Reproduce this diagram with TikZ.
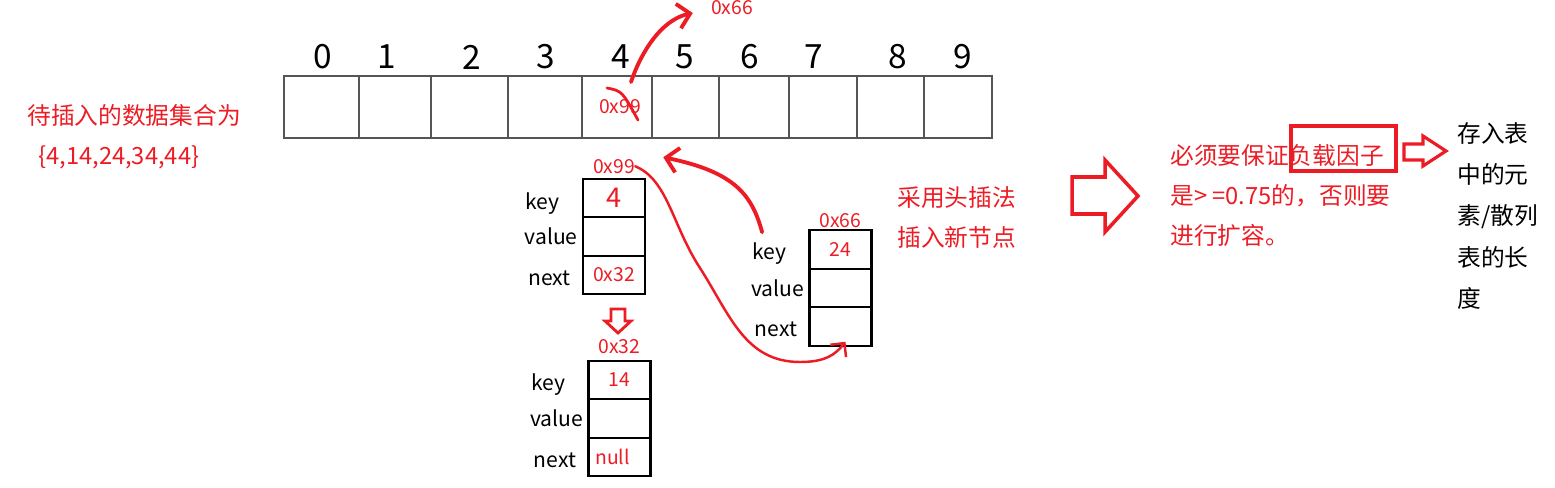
\documentclass[tikz,border=0pt]{standalone}
\usepackage{fontspec}
\setmainfont{Noto Sans CJK SC}
\usepackage{tikz}
\usetikzlibrary{positioning, arrows.meta, calc}
\definecolor{inkred}{RGB}{237,28,36}
\definecolor{gridgray}{RGB}{85,85,85}

\begin{document}
\begin{tikzpicture}[
    x=0.2mm, y=-0.2mm,
    >={Straight Barb[length=2.4mm, width=5mm]},
    tcell/.style={rectangle, draw=gridgray, line width=1pt, minimum height=12.4mm, inner sep=0pt, outer sep=0pt},
    idx/.style={inner sep=0pt, font=\fontsize{19}{19}\selectfont},
    slot/.style={rectangle, draw, line width=1.2pt, minimum width=12.4mm, minimum height=7.7mm, inner sep=0pt, outer sep=0pt},
    field/.style={inner sep=0pt, font=\fontsize{12}{12}\selectfont},
    addr/.style={inner sep=0pt, text=inkred, font=\fontsize{11}{11}\selectfont},
    note/.style={text=inkred, align=left, inner sep=0pt, font=\fontsize{13.5}{22.7}\selectfont},
    plain/.style={align=left, inner sep=0pt, font=\fontsize{13.5}{23.5}\selectfont},
    hand/.style={draw=inkred, line width=2.2pt, line cap=round, line join=round},
    thinhand/.style={hand, line width=1.4pt},
    blockarrow/.style={draw=inkred, line width=2pt, line join=miter}
]
\useasboundingbox (0,0) rectangle (1555,487);

% Data set
\node[note, anchor=west] (set1) at (27,115) {待插入的数据集合为};
\node[note, anchor=west] (set2) at (38,157) {\{4,14,24,34,44\}};

% Hash table
\foreach \l/\r/\t [count=\i from 0] in {284/359/323, 359/431/387, 431/508/472, 508/582/546, 582/652/621, 652/719/685, 719/789/750, 789/857/814, 857/924/898, 924/992/963} {
    \node[tcell, minimum width={(\r-\l)*0.2mm}] (c\i) at ({(\l+\r)/2},107) {};
    \node[idx] (n\i) at (\t,57) {\i};
}

% Old pointer in bucket 4
\node[addr] (old99) at (620,107) {0x99};
\draw[hand, line width=1.6pt] ([shift={(-13,-19)}]old99.center) .. controls ([shift={(2,-16)}]old99.center) .. ([shift={(18,13)}]old99.center);

% New pointer
\node[addr] (ptr66) at (732,8) {0x66};
\draw[hand, ->] ([shift={(14,6)}]c4.north) .. controls (640,55) and (660,20) .. ([shift={(-18,5)}]ptr66.west);

% Entry 4
\node[slot] (key1) at (614,198) {\textcolor{inkred}{\fontsize{15.5}{15.5}\selectfont 4}};
\node[slot, below=0pt of key1] (val1) {};
\node[slot, below=0pt of val1] (nxt1) {\textcolor{inkred}{\fontsize{11}{11}\selectfont 0x32}};
\node[addr, above=1mm of key1] (lab99) {0x99};
\node[field, left=4.6mm of key1, yshift=-1.2mm] (lkey1) {key};
\node[field, left=1mm of val1] (lval1) {value};
\node[field, left=2.4mm of nxt1, yshift=-0.6mm] (lnxt1) {next};

% Link to next entry
\draw[blockarrow, line width=1.6pt] (611,309) -- (625,309) -- (625,321) -- (631,321) -- (618,333) -- (605,321) -- (611,321) -- cycle;

% Entry 14
\node[slot] (key2) at (619.5,380) {\raisebox{-1mm}{\textcolor{inkred}{\fontsize{11}{11}\selectfont 14}}};
\node[slot, below=0pt of key2] (val2) {};
\node[slot, below=0pt of val2] (nxt2) {\textcolor{inkred}{\fontsize{11}{11}\selectfont\hspace*{-2.8mm}null}};
\node[addr, above=1.3mm of key2] (lab32) {0x32};
\node[field, left=4.6mm of key2, yshift=-1mm] (lkey2) {key};
\node[field, left=1mm of val2] (lval2) {value};
\node[field, left=2.4mm of nxt2, yshift=-0.6mm] (lnxt2) {next};

% Entry 24 (new node)
\node[slot] (key3) at (840.5,249.5) {\raisebox{-0.8mm}{\textcolor{inkred}{\fontsize{11}{11}\selectfont 24}}};
\node[slot, below=0pt of key3] (val3) {};
\node[slot, below=0pt of val3] (nxt3) {};
\node[addr, above=0.5mm of key3] (lab66) {0x66};
\node[field, left=4.6mm of key3, yshift=-0.8mm] (lkey3) {key};
\node[field, left=1mm of val3] (lval3) {value};
\node[field, left=2.4mm of nxt3, yshift=-0.6mm] (lnxt3) {next};

% Head insertion
\draw[hand, ->] ([shift={(-7,-10)}]lkey3.north) .. controls (752,195) and (735,172) .. ([shift={(28,-9)}]lab99.east);
\draw[thinhand, -{Straight Barb[length=2mm, width=4mm]}] (lab99.east) .. controls (668,180) and (672,225) .. (700,268) .. controls (730,315) and (745,362) .. (800,362) .. controls (825,362) and (835,355) .. ([shift={(5,-4)}]nxt3.south);

\node[note, anchor=north west] (method) at (897,186) {采用头插法\\插入新节点};

% Load factor
\draw[blockarrow] (1072,177) -- (1105,177) -- (1105,160) -- (1138,196) -- (1105,232) -- (1105,214) -- (1072,214) -- cycle;
\node[note, anchor=north west] (rule) at (1170,144) {必须要保证负载因子\\是> =0.75的，否则要\\进行扩容。};
\node[rectangle, draw=inkred, line width=2.2pt, minimum width=21mm, minimum height=9mm, inner sep=0pt] (lfbox) at (1343.5,148.5) {};
\draw[blockarrow, line width=1.8pt] (1404,144) -- (1423,144) -- (1423,136) -- (1446,151) -- (1423,166) -- (1423,160) -- (1404,160) -- cycle;
\node[plain, anchor=north west] (meaning) at (1457,122) {存入表\\中的元\\素/散列\\表的长\\度};

\end{tikzpicture}
\end{document}
